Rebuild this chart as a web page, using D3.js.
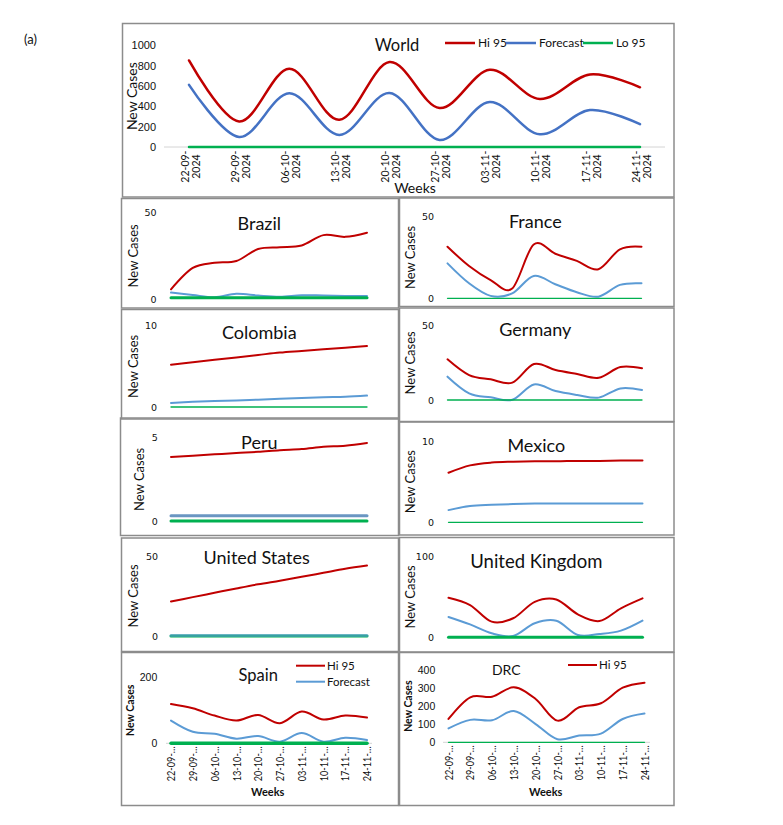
<!DOCTYPE html>
<html>
<head>
<meta charset="utf-8">
<script src="https://cdn.jsdelivr.net/npm/d3@7"></script>
<style>
  body { margin: 0; background: #fff; }
  text { font-family: Lato, "Open Sans", sans-serif; fill: #111; }
</style>
</head>
<body>
<svg id="chart" width="783" height="825"></svg>
<script>
// x categories (weeks)
var weeks = ["22-09-2024", "29-09-2024", "06-10-2024", "13-10-2024", "20-10-2024",
             "27-10-2024", "03-11-2024", "10-11-2024", "17-11-2024", "24-11-2024"];
var seriesNames = ["Hi 95", "Forecast", "Lo 95"];

// values (Hi 95 / Forecast / Lo 95)
var worldHi = [851, 251, 769, 267, 835, 383, 759, 472, 713, 587];
var worldFc = [611, 99, 528, 119, 531, 69, 442, 125, 363, 224];
var worldLo = [0, 0, 0, 0, 0, 0, 0, 0, 0, 0];

var brazilHi = [5.6, 18, 21, 22, 29, 30, 31, 37, 36, 38.4];
var brazilFc = [3.7, 2.3, 1, 3, 2, 1.3, 2.2, 2, 1.8, 1.8];
var brazilLo = [0.7, 0.7, 0.7, 0.7, 0.7, 0.7, 0.7, 0.7, 0.7, 0.7];

var colombiaHi = [5.2, 5.5, 5.8, 6.1, 6.4, 6.7, 6.9, 7.1, 7.3, 7.5];
var colombiaFc = [0.5, 0.65, 0.75, 0.8, 0.9, 1.0, 1.1, 1.2, 1.25, 1.4];
var colombiaLo = [0, 0, 0, 0, 0, 0, 0, 0, 0, 0];

var peruHi = [3.84, 3.92, 4.0, 4.08, 4.15, 4.25, 4.32, 4.45, 4.52, 4.68];
var peruFc = [0.32, 0.32, 0.32, 0.32, 0.32, 0.32, 0.32, 0.32, 0.32, 0.32];
var peruLo = [0, 0, 0, 0, 0, 0, 0, 0, 0, 0];

var usHi = [21.5, 24.3, 27, 29.7, 32.3, 34.6, 37, 39.5, 42, 44];
var usFc = [0.3, 0.3, 0.3, 0.3, 0.3, 0.3, 0.3, 0.3, 0.3, 0.3];
var usLo = [0, 0, 0, 0, 0, 0, 0, 0, 0, 0];

var spainHi = [119, 106, 84, 69, 86, 61, 96, 72, 84, 78];
var spainFc = [69, 35, 29, 14, 22, 5, 31, 5, 17, 10];
var spainLo = [0, 0, 0, 0, 0, 0, 0, 0, 0, 0];

var franceHi = [31.6, 19.8, 11.2, 6, 33, 27.3, 22.9, 17.8, 30, 31.6];
var franceFc = [21.4, 9.2, 1.5, 3, 13.7, 8.6, 3.7, 1, 8.2, 9.2];
var franceLo = [0, 0, 0, 0, 0, 0, 0, 0, 0, 0];

var germanyHi = [27.4, 16.8, 13.9, 11.7, 24.2, 20.2, 17.5, 15, 22.2, 21.3];
var germanyFc = [15.7, 4.5, 1.8, 0.2, 10.5, 6, 3.4, 1.6, 7.8, 6.7];
var germanyLo = [0, 0, 0, 0, 0, 0, 0, 0, 0, 0];

var mexicoHi = [6.1, 7.0, 7.35, 7.45, 7.5, 7.5, 7.55, 7.55, 7.6, 7.6];
var mexicoFc = [1.5, 2.0, 2.15, 2.25, 2.3, 2.3, 2.3, 2.3, 2.3, 2.3];
var mexicoLo = [0, 0, 0, 0, 0, 0, 0, 0, 0, 0];

var ukHi = [49, 40, 19.4, 23.6, 44, 47, 28.5, 20.2, 36, 48.3];
var ukFc = [25.2, 16, 5, 1.6, 17.4, 20.5, 2.9, 4.1, 8.3, 20.7];
var ukLo = [0, 0, 0, 0, 0, 0, 0, 0, 0, 0];

var drcHi = [129, 249, 252, 304, 240, 120, 194, 216, 302, 330];
var drcFc = [77, 124, 122, 173, 101, 17, 37, 48, 129, 159];
var drcLo = [0, 0, 0, 0, 0, 0, 0, 0, 0, 0];

// y tick values per panel
var worldTicks = [0, 200, 400, 600, 800, 1000];
var drcTicks = [0, 100, 200, 300, 400];

// colours
var hiColor = "#C00000";
var fcColor = "#5B9BD5";
var worldFcColor = "#4472C4";
var loColor = "#00B050";

var svg = d3.select("#chart");

// panel layout (position / style only, data comes from the arrays above)
var panels = [
  {title: "World", hi: worldHi, fc: worldFc, lo: worldLo, yMax: 1000, ticks: worldTicks,
   box: [122.5, 23.5, 551.5, 173.5], xr: [189, 640], yr: [147, 45.3], tickRight: 156,
   tickFont: "'Liberation Sans', Arial, sans-serif", tickSize: 11,
   yLab: [131.6, 14, "normal"], titlePos: [397, 51.4, 16.5], fcColor: worldFcColor,
   lineW: 2.5, loW: 2.5, axisLine: [164, 665], xLabels: "full", weeksPos: [415, 193, 14, "normal"]},
  {title: "Brazil", hi: brazilHi, fc: brazilFc, lo: brazilLo, yMax: 50, ticks: [0, 50],
   box: [121.5, 198.5, 277, 109.5], xr: [171, 367], yr: [299, 212.7], tickRight: 156.5,
   yLab: [133, 13, "normal"], titlePos: [259.3, 229.5, 18], loW: 3},
  {title: "Colombia", hi: colombiaHi, fc: colombiaFc, lo: colombiaLo, yMax: 10, ticks: [0, 10],
   box: [121.5, 309.5, 277, 109.5], xr: [171, 367], yr: [407, 325.7], tickRight: 157,
   yLab: [133, 13, "normal"], titlePos: [259.3, 338.5, 18], loW: 1.3},
  {title: "Peru", hi: peruHi, fc: peruFc, lo: peruLo, yMax: 5, ticks: [0, 5],
   box: [120.5, 418, 278, 117.5], xr: [171, 367], yr: [521, 437.7], tickRight: 157.7,
   yLab: [139.3, 13, "normal"], titlePos: [259.3, 449, 18], loW: 3, fcW: 3, fcColor: "#6A96C2"},
  {title: "United States", hi: usHi, fc: usFc, lo: usLo, yMax: 50, ticks: [0, 50],
   box: [121.5, 538, 277, 113.5], xr: [171, 367], yr: [636, 556], tickRight: 158,
   yLab: [133.3, 13, "normal"], titlePos: [256.7, 564, 18], loW: 3, fcW: 3, fcOnTop: true},
  {title: "Spain", hi: spainHi, fc: spainFc, lo: spainLo, yMax: 200, ticks: [0, 200],
   box: [121.5, 652.5, 277, 153], xr: [171, 367], yr: [743.3, 677.3], tickRight: 157.3,
   tickFont: "'Liberation Sans', Arial, sans-serif", tickSize: 10.5,
   yLab: [130, 10.5, "bold"], titlePos: [258.3, 680.7, 16.5], loW: 3.5,
   axisLine: [166, 372], xLabels: "short", weeksPos: [267.7, 796, 11, "bold"],
   legend: {x: 296, y: 665.7, names: [0, 1]}},
  {title: "France", hi: franceHi, fc: franceFc, lo: franceLo, yMax: 50, ticks: [0, 50],
   box: [399.5, 198, 274.5, 108.5], xr: [447.5, 641.5], yr: [298.3, 216.7], tickRight: 434,
   yLab: [410.7, 13, "normal"], titlePos: [535.3, 228.3, 18], loW: 1.3},
  {title: "Germany", hi: germanyHi, fc: germanyFc, lo: germanyLo, yMax: 50, ticks: [0, 50],
   box: [399.5, 308, 274.5, 113.5], xr: [447.5, 642], yr: [400, 325.7], tickRight: 434,
   yLab: [410.7, 13, "normal"], titlePos: [535.3, 335.7, 18], loW: 1.3},
  {title: "Mexico", hi: mexicoHi, fc: mexicoFc, lo: mexicoLo, yMax: 10, ticks: [0, 10],
   box: [399.5, 422, 274.5, 113], xr: [448.5, 642.5], yr: [522.3, 441], tickRight: 434,
   yLab: [410.7, 13, "normal"], titlePos: [536.3, 451.7, 18], loW: 1.3},
  {title: "United Kingdom", hi: ukHi, fc: ukFc, lo: ukLo, yMax: 100, ticks: [0, 100],
   box: [399.5, 537.5, 274.5, 114.5], xr: [448.5, 642.5], yr: [637.3, 556.7], tickRight: 434,
   yLab: [410.7, 13, "normal"], titlePos: [536.3, 568, 18.5], loW: 3},
  {title: "DRC", hi: drcHi, fc: drcFc, lo: drcLo, yMax: 400, ticks: drcTicks,
   box: [399.5, 652.5, 274.5, 153], xr: [448.5, 644.5], yr: [742.3, 670], tickRight: 435.3,
   tickFont: "'Liberation Sans', Arial, sans-serif", tickSize: 10.5,
   yLab: [408, 10.5, "bold"], titlePos: [506.3, 675, 14], loW: 1.3,
   axisLine: [443, 650], xLabels: "short", weeksPos: [545.7, 796, 11, "bold"],
   legend: {x: 568, y: 665, names: [0]}}
];

// panel label
svg.append("text")
  .attr("x", 24).attr("y", 44)
  .style("font-size", "13px")
  .text("(a)");

function drawPanel(p) {
  var g = svg.append("g").attr("class", "panel");

  // frame
  g.append("rect")
    .attr("x", p.box[0]).attr("y", p.box[1])
    .attr("width", p.box[2]).attr("height", p.box[3])
    .attr("fill", "none")
    .attr("stroke", "#8c8c8c")
    .attr("stroke-width", 1.5);

  var xScale = d3.scalePoint().domain(weeks).range(p.xr);
  var yScale = d3.scaleLinear().domain([0, p.yMax]).range(p.yr);

  // category axis line (only where the picture shows one)
  if (p.axisLine) {
    g.append("line")
      .attr("x1", p.axisLine[0]).attr("x2", p.axisLine[1])
      .attr("y1", yScale(0)).attr("y2", yScale(0))
      .attr("stroke", "#d4d4d4")
      .attr("stroke-width", 1);
  }

  // y axis: labels only
  var yAxis = d3.axisLeft(yScale)
    .tickValues(p.ticks)
    .tickFormat(function(d) { return String(d); })
    .tickSize(0)
    .tickPadding(0);
  var ya = g.append("g")
    .attr("transform", "translate(" + p.tickRight + ",0)")
    .call(yAxis);
  ya.select(".domain").remove();
  ya.selectAll("text")
    .style("font-family", p.tickFont || "'DejaVu Sans', Verdana, sans-serif")
    .style("font-size", (p.tickSize || 9.5) + "px")
    .attr("fill", "#111");

  // x labels
  if (p.xLabels) {
    var xAxis = d3.axisBottom(xScale).tickSize(0).tickFormat("");
    var xa = g.append("g")
      .attr("transform", "translate(0," + yScale(0) + ")")
      .call(xAxis);
    xa.select(".domain").remove();
    xa.selectAll(".tick text").remove();
    if (p.xLabels === "full") {
      // two line rotated labels: "22-09-" / "2024"
      var t = xa.selectAll(".tick").append("text")
        .attr("transform", "translate(1,19.6) rotate(-90)")
        .attr("text-anchor", "middle")
        .style("font-size", "10.5px")
        .attr("fill", "#111");
      t.append("tspan").attr("x", 0).attr("y", -5.5).attr("dy", "0.35em")
        .text(function(d) { return d.slice(0, 6); });
      t.append("tspan").attr("x", 0).attr("y", 5.5).attr("dy", "0.35em")
        .text(function(d) { return d.slice(6); });
    } else {
      // truncated labels "22-09-…"
      xa.selectAll(".tick").append("text")
        .attr("transform", "translate(0,3) rotate(-90)")
        .attr("text-anchor", "end")
        .attr("dy", "0.35em")
        .attr("textLength", 35)
        .attr("lengthAdjust", "spacingAndGlyphs")
        .style("font-size", "10.5px")
        .attr("fill", "#111")
        .text(function(d) { return d.slice(0, 6) + "\u2026"; });
    }
    g.append("text")
      .attr("x", p.weeksPos[0]).attr("y", p.weeksPos[1])
      .attr("text-anchor", "middle")
      .style("font-size", p.weeksPos[2] + "px")
      .style("font-weight", p.weeksPos[3])
      .text("Weeks");
  }

  // y axis title
  var midY = (p.yr[0] + p.yr[1]) / 2;
  g.append("text")
    .attr("transform", "translate(" + p.yLab[0] + "," + midY + ") rotate(-90)")
    .attr("text-anchor", "middle")
    .attr("dy", "0.35em")
    .style("font-size", p.yLab[1] + "px")
    .style("font-weight", p.yLab[2])
    .text("New Cases");

  // chart title
  g.append("text")
    .attr("x", p.titlePos[0]).attr("y", p.titlePos[1])
    .attr("text-anchor", "middle")
    .style("font-size", p.titlePos[2] + "px")
    .text(p.title);

  // smoothed lines like the spreadsheet ones
  var line = d3.line()
    .x(function(d, i) { return xScale(weeks[i]); })
    .y(function(d) { return yScale(d); })
    .curve(d3.curveCardinal.tension(0));

  var lw = p.lineW || 2;
  var series = [
    {v: p.hi, c: hiColor, w: lw, o: 1},
    {v: p.fc, c: p.fcColor || fcColor, w: p.fcW || lw, o: p.fcOnTop ? 0.6 : 1},
    {v: p.lo, c: loColor, w: p.loW, o: 1}
  ];
  if (p.fcOnTop) series = [series[0], series[2], series[1]];

  series.forEach(function(s) {
    g.append("path")
      .datum(s.v)
      .attr("d", line)
      .attr("fill", "none")
      .attr("stroke", s.c)
      .attr("stroke-width", s.w)
      .attr("stroke-opacity", s.o)
      .attr("stroke-linecap", "round");
  });

  // small legends (Spain, DRC)
  if (p.legend) {
    var cols = [hiColor, fcColor];
    var leg = g.append("g").selectAll(".legendas").data(p.legend.names).enter()
      .append("g")
      .attr("transform", function(d, i) { return "translate(" + p.legend.x + "," + (p.legend.y + i * 16) + ")"; });
    leg.append("line")
      .attr("x1", 0).attr("x2", 29)
      .attr("stroke", function(d) { return cols[d]; })
      .attr("stroke-width", 2);
    leg.append("text")
      .attr("x", 31).attr("dy", "0.35em")
      .style("font-size", "11.5px")
      .text(function(d) { return seriesNames[d]; });
  }
}

panels.forEach(drawPanel);

// world legend
var worldLegX = [445, 506, 583];
var worldCols = [hiColor, worldFcColor, loColor];
var wl = svg.append("g").selectAll(".wl").data(seriesNames).enter()
  .append("g")
  .attr("transform", function(d, i) { return "translate(" + worldLegX[i] + ",43)"; });
wl.append("line")
  .attr("x1", 0).attr("x2", 30)
  .attr("stroke", function(d, i) { return worldCols[i]; })
  .attr("stroke-width", 2.5);
wl.append("text")
  .attr("x", 33).attr("dy", "0.35em")
  .style("font-size", "12px")
  .text(function(d) { return d; });
</script>
</body>
</html>
